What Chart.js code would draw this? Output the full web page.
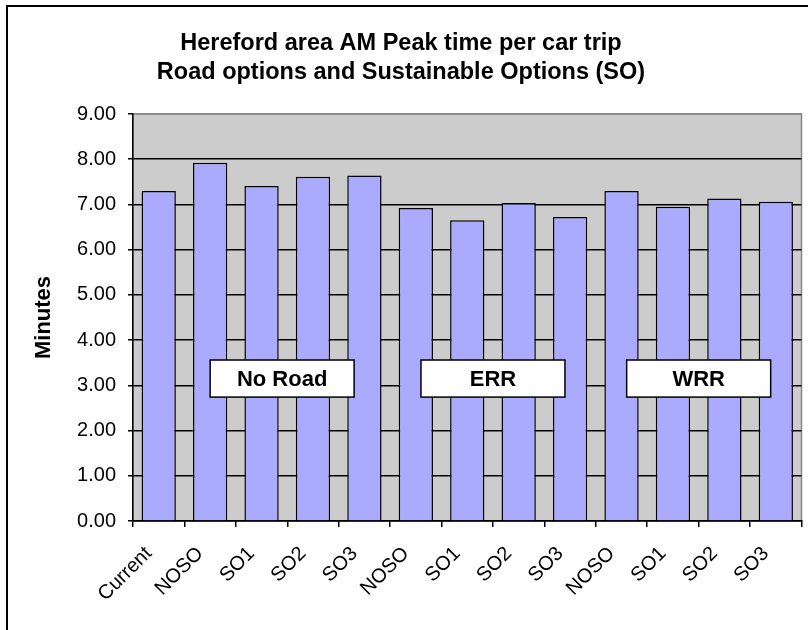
<!DOCTYPE html>
<html>
<head>
<meta charset="utf-8">
<script src="https://cdn.jsdelivr.net/npm/chart.js@4/dist/chart.umd.min.js"></script>
<style>
html,body{margin:0;padding:0;background:#fff;}
canvas{display:block;}
</style>
</head>
<body>
<canvas id="c" width="808" height="630"></canvas>
<script>
// ---- data ----
const categories = ['Current','NOSO','SO1','SO2','SO3','NOSO','SO1','SO2','SO3','NOSO','SO1','SO2','SO3'];
const minutes = [7.30, 7.92, 7.41, 7.61, 7.64, 6.92, 6.65, 7.03, 6.72, 7.30, 6.95, 7.13, 7.06];
const yTicks = [0, 1, 2, 3, 4, 5, 6, 7, 8, 9];
const groupLabels = ['No Road', 'ERR', 'WRR'];
const groupCenters = [2.4, 6.5, 10.5];   // category-index units
const groupValue = 3.15;                 // value-axis units
const titleLines = ['Hereford area AM Peak time per car trip', 'Road options and Sustainable Options (SO)'];

const FONT = "'Liberation Sans', Arial, sans-serif";

const decor = {
  id: 'decor',
  beforeDraw(chart) {
    const {ctx, chartArea: a} = chart;
    ctx.save();
    ctx.fillStyle = '#fff';
    ctx.fillRect(0, 0, chart.width, chart.height);
    ctx.strokeStyle = '#000';
    ctx.lineWidth = 2;
    ctx.strokeRect(7, 6, chart.width + 20, chart.height + 20);
    ctx.fillStyle = '#CCCCCC';
    ctx.fillRect(a.left, a.top, a.right - a.left, a.bottom - a.top);
    ctx.strokeStyle = '#888';
    ctx.lineWidth = 1.5;
    ctx.strokeRect(a.left, a.top, a.right - a.left, a.bottom - a.top);
    ctx.restore();
  },
  afterDatasetsDraw(chart) {
    const {ctx} = chart;
    const x = chart.scales.x, y = chart.scales.y;
    const step = x.getPixelForValue(1) - x.getPixelForValue(0);
    const boxW = step * 2.8;
    const boxH = (y.getPixelForValue(0) - y.getPixelForValue(1)) * 0.82;
    ctx.save();
    groupLabels.forEach((lbl, i) => {
      const cx = x.getPixelForValue(groupCenters[i]);
      const cy = y.getPixelForValue(groupValue);
      ctx.fillStyle = '#fff';
      ctx.fillRect(cx - boxW / 2, cy - boxH / 2, boxW, boxH);
      ctx.strokeStyle = '#000';
      ctx.lineWidth = 1.5;
      ctx.strokeRect(cx - boxW / 2, cy - boxH / 2, boxW, boxH);
      ctx.fillStyle = '#000';
      ctx.font = 'bold 22px ' + FONT;
      ctx.textAlign = 'center';
      ctx.textBaseline = 'middle';
      ctx.fillText(lbl, cx, cy + 1);
    });
    ctx.restore();
  }
};

new Chart(document.getElementById('c'), {
  type: 'bar',
  data: {
    labels: categories,
    datasets: [{
      data: minutes,
      backgroundColor: '#AAAAFF',
      borderColor: '#000',
      borderWidth: 1.5,
      categoryPercentage: 1,
      barPercentage: 0.667
    }]
  },
  options: {
    responsive: false,
    animation: false,
    devicePixelRatio: 1,
    layout: {padding: {left: 0, right: 6, top: 0, bottom: 0}},
    plugins: {
      legend: {display: false},
      tooltip: {enabled: false},
      title: {
        display: true,
        text: titleLines,
        color: '#000',
        font: {family: FONT, size: 23.5, weight: 'bold', lineHeight: 29 / 23.5},
        padding: {top: 29.5, bottom: 26.5}
      }
    },
    scales: {
      x: {
        afterFit(s) { s.height = 109; },
        grid: {
          offset: true,
          drawOnChartArea: false,
          drawTicks: true,
          tickLength: 6,
          tickColor: '#000',
          lineWidth: 1.5
        },
        border: {display: true, color: '#000', width: 1.5},
        ticks: {
          color: '#000',
          font: {family: FONT, size: 20},
          maxRotation: 45,
          minRotation: 45,
          autoSkip: false,
          padding: 15,
          labelOffset: -10
        }
      },
      y: {
        min: 0,
        max: 9,
        afterFit(s) { s.width = 133; },
        afterBuildTicks(s) { s.ticks = yTicks.map(v => ({value: v})); },
        grid: {
          color: c => (c.tick && c.tick.value === 9) ? '#888' : '#000',
          tickColor: '#000',
          lineWidth: 1.5,
          tickLength: 5
        },
        border: {display: true, color: '#000', width: 1.5},
        ticks: {
          color: '#000',
          font: {family: FONT, size: 20},
          padding: 12,
          callback: v => Number(v).toFixed(2)
        },
        title: {
          display: true,
          text: 'Minutes',
          color: '#000',
          font: {family: FONT, size: 22, weight: 'bold'},
          padding: {top: 31, bottom: 0}
        }
      }
    }
  },
  plugins: [decor]
});
</script>
</body>
</html>
